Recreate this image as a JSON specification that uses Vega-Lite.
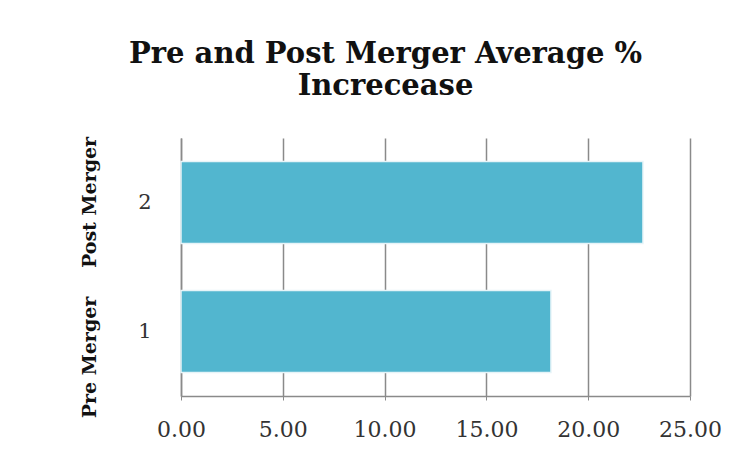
{
  "$schema": "https://vega.github.io/schema/vega-lite/v6.json",
  "autosize": {"type": "none"},
  "width": 509,
  "height": 258,
  "padding": {"left": 181, "top": 138, "right": 61, "bottom": 55},
  "background": "white",
  "title": {
    "text": ["Pre and Post Merger Average %", "Increcease"],
    "font": "DejaVu Serif",
    "fontSize": 29,
    "fontWeight": "bold",
    "color": "#111111",
    "anchor": "middle",
    "frame": "group",
    "dx": -50,
    "offset": 35,
    "lineHeight": 32
  },
  "data": {
    "values": [
      {"idx": "2", "group": "Post Merger", "value": 22.69},
      {"idx": "1", "group": "Pre Merger", "value": 18.17}
    ]
  },
  "config": {
    "view": {"stroke": null},
    "axis": {
      "labelFont": "DejaVu Serif",
      "labelColor": "#333333",
      "domainColor": "#8a8a8a",
      "domainWidth": 1.5,
      "gridColor": "#8a8a8a",
      "gridWidth": 1.5,
      "tickColor": "#8a8a8a",
      "title": null
    }
  },
  "layer": [
    {
      "mark": {"type": "bar", "color": "#52b6cf", "stroke": "#e6f4f8", "strokeWidth": 1.5},
      "encoding": {
        "y": {
          "field": "idx",
          "type": "nominal",
          "sort": ["2", "1"],
          "scale": {"paddingInner": 0.364, "paddingOuter": 0.182},
          "axis": {
            "orient": "left",
            "ticks": false,
            "labelFontSize": 21,
            "labelPadding": 30,
            "labelAngle": 0,
            "grid": false
          }
        },
        "x": {
          "field": "value",
          "type": "quantitative",
          "scale": {"domain": [0, 25], "nice": false},
          "axis": {
            "values": [0, 5, 10, 15, 20, 25],
            "format": ".2f",
            "labelFontSize": 22,
            "labelPadding": 19,
            "labelFlush": false,
            "labelBound": false,
            "labelOverlap": false,
            "tickSize": 4,
            "grid": true,
            "domain": true
          }
        }
      }
    },
    {
      "mark": {"type": "bar", "opacity": 0},
      "encoding": {
        "y": {
          "field": "group",
          "type": "nominal",
          "sort": ["Post Merger", "Pre Merger"],
          "scale": {"paddingInner": 0.364, "paddingOuter": 0.182},
          "axis": {
            "orient": "left",
            "domain": false,
            "ticks": false,
            "grid": false,
            "labelAngle": -90,
            "labelAlign": "center",
            "labelBaseline": "bottom",
            "labelFontSize": 19,
            "labelFontWeight": "bold",
            "labelColor": "#111111",
            "labelPadding": 82,
            "labelOffset": {"condition": {"test": "datum.value === 'Pre Merger'", "value": 26}, "value": 0}
          }
        },
        "x": {"field": "value", "type": "quantitative"}
      }
    }
  ],
  "resolve": {"scale": {"y": "independent"}, "axis": {"y": "independent"}}
}
